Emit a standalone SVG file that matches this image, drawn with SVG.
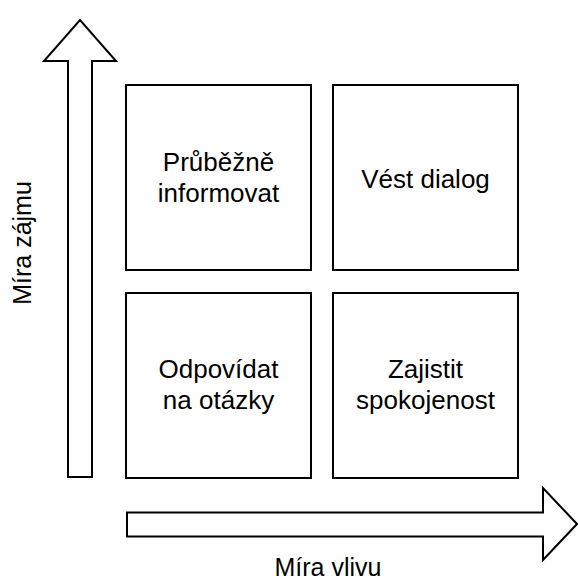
<svg xmlns="http://www.w3.org/2000/svg" width="578" height="583" viewBox="0 0 578 583">
  <style>
    .box { fill: #ffffff; stroke: #000000; stroke-width: 2; }
    .arrow { fill: #ffffff; stroke: #000000; stroke-width: 2; stroke-linejoin: miter; }
    .lbl { font-family: "Liberation Sans", Arial, Helvetica, sans-serif; font-size: 26px; fill: #000000; text-anchor: middle; }
    .axis { font-family: "Liberation Sans", Arial, Helvetica, sans-serif; font-size: 25px; fill: #000000; text-anchor: middle; }
  </style>
  <rect width="578" height="583" fill="#ffffff"/>
  <g id="connectors">
    <path class="arrow" d="M68,477 L68,61 L44,61 L80,20 L116,61 L92,61 L92,477 Z"/>
    <path class="arrow" d="M127,512.5 L543,512.5 L543,488 L577,524 L543,560 L543,536.5 L127,536.5 Z"/>
  </g>
  <g id="axis-y">
    <text class="axis" transform="translate(31,243) rotate(-90)">Míra zájmu</text>
  </g>
  <g id="axis-x">
    <text class="axis" x="328" y="576">Míra vlivu</text>
  </g>
  <g id="node-tl">
    <rect class="box" x="126" y="85" width="185" height="185"/>
    <text class="lbl" x="218.5" y="171">Průběžně</text>
    <text class="lbl" x="218.5" y="202">informovat</text>
  </g>
  <g id="node-tr">
    <rect class="box" x="333" y="85" width="185" height="185"/>
    <text class="lbl" x="425.5" y="188">Vést dialog</text>
  </g>
  <g id="node-bl">
    <rect class="box" x="126" y="293" width="185" height="185"/>
    <text class="lbl" x="218.5" y="378">Odpovídat</text>
    <text class="lbl" x="218.5" y="409">na otázky</text>
  </g>
  <g id="node-br">
    <rect class="box" x="333" y="293" width="185" height="185"/>
    <text class="lbl" x="425.5" y="378">Zajistit</text>
    <text class="lbl" x="425.5" y="409">spokojenost</text>
  </g>
</svg>
